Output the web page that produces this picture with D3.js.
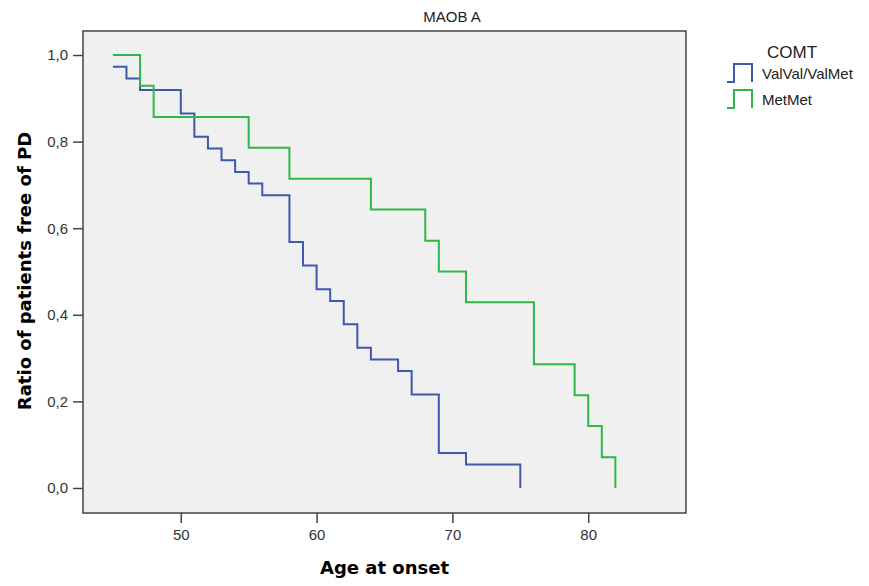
<!DOCTYPE html>
<html>
<head>
<meta charset="utf-8">
<script src="https://cdn.jsdelivr.net/npm/d3@7"></script>
<style>
  body { margin: 0; background: #fff; }
  svg { display: block; }
</style>
</head>
<body>
<svg></svg>
<script>
var width  = 869;
var height = 586;

// plot frame
var plotLeft = 83, plotRight = 686, plotTop = 31, plotBottom = 513;

// Kaplan-Meier steps
var blueAges = [45, 46, 47, 50, 51, 52, 53, 54, 55, 56, 58, 59, 60, 61, 62, 63, 64, 66, 67, 69, 71, 75];
var blueSurv = [0.973, 0.946, 0.919, 0.865, 0.811, 0.784, 0.757, 0.730, 0.703, 0.676, 0.568,
                0.514, 0.459, 0.432, 0.378, 0.324, 0.297, 0.270, 0.216, 0.081, 0.054, 0.000];

var greenAges = [45, 47, 48, 55, 58, 64, 68, 69, 71, 76, 79, 80, 81, 82];
var greenSurv = [1.000, 0.929, 0.857, 0.786, 0.714, 0.643, 0.571, 0.500, 0.429, 0.286, 0.214, 0.143, 0.071, 0.000];

var seriesNames = ['ValVal/ValMet', 'MetMet'];
var xTicks = [50, 60, 70, 80];
var yTicks = [0, 0.2, 0.4, 0.6, 0.8, 1.0];

var colors = ['#3e58ac', '#2eb848'];

var xScale = d3.scaleLinear()
                    .domain([42.8, 87.2])
                    .range([plotLeft, plotRight]);

var yScale = d3.scaleLinear()
                    .domain([0, 1])
                    .range([488, 55]);

var svg = d3.select('svg')
        .attr('width', width)
        .attr('height', height);

svg.append('rect')
        .attr('x', plotLeft)
        .attr('y', plotTop)
        .attr('width', plotRight - plotLeft)
        .attr('height', plotBottom - plotTop)
        .attr('fill', '#f0f0f0')
        .attr('stroke', '#444')
        .attr('stroke-width', 1.5);

var commaFmt = d => d3.format('.1f')(d).replace('.', ',');

var xAxis = d3.axisBottom(xScale)
                    .tickValues(xTicks)
                    .tickSize(10)
                    .tickSizeOuter(0)
                    .tickPadding(6);

var yAxis = d3.axisLeft(yScale)
                    .tickValues(yTicks)
                    .tickFormat(commaFmt)
                    .tickSize(10)
                    .tickSizeOuter(0)
                    .tickPadding(5);

var gx = svg.append('g')
        .attr('transform', 'translate(0, ' + plotBottom + ')')
        .call(xAxis);

var gy = svg.append('g')
        .attr('transform', 'translate(' + plotLeft + ', 0)')
        .call(yAxis);

[gx, gy].forEach(function(g) {
    g.select('.domain').remove();
    g.selectAll('line').attr('stroke', '#444').attr('stroke-width', 1.5);
    g.selectAll('text')
        .attr('fill', '#333')
        .attr('font-family', 'Liberation Sans, Arial, sans-serif')
        .attr('font-size', '15px');
});

var line = d3.line()
        .x(d => xScale(d[0]))
        .y(d => yScale(d[1]))
        .curve(d3.curveStepAfter);

function stepPoints(ages, surv) {
    var pts = [];
    for (var i = 0; i < ages.length; i++) {
        pts.push([ages[i], surv[i]]);
    }
    return pts;
}

var bluePts = stepPoints(blueAges, blueSurv);
var greenPts = stepPoints(greenAges, greenSurv);

svg.selectAll('path.km')
    .data([bluePts, greenPts])
    .enter()
    .append('path')
        .attr('class', 'km')
        .attr('d', line)
        .attr('fill', 'none')
        .attr('stroke', (d, i) => colors[i])
        .attr('stroke-width', 2);

// title
svg.append('text')
        .attr('x', 452)
        .attr('y', 22)
        .attr('text-anchor', 'middle')
        .attr('font-family', 'Liberation Sans, Arial, sans-serif')
        .attr('font-size', '15px')
        .attr('fill', '#222')
        .text('MAOB A');

svg.append('text')
        .attr('x', (plotLeft + plotRight) / 2)
        .attr('y', 574)
        .attr('text-anchor', 'middle')
        .attr('font-family', 'DejaVu Sans, sans-serif')
        .attr('font-weight', 'bold')
        .attr('font-size', '18px')
        .attr('fill', '#000')
        .text('Age at onset');

svg.append('text')
        .attr('transform', 'rotate(-90)')
        .attr('x', -271)
        .attr('y', 31)
        .attr('text-anchor', 'middle')
        .attr('font-family', 'DejaVu Sans, sans-serif')
        .attr('font-weight', 'bold')
        .attr('font-size', '18px')
        .attr('fill', '#000')
        .text('Ratio of patients free of PD');

// legend
svg.append('text')
        .attr('x', 767)
        .attr('y', 58)
        .attr('font-family', 'Liberation Sans, Arial, sans-serif')
        .attr('font-size', '17px')
        .attr('fill', '#222')
        .text('COMT');

var legend = svg.selectAll('g.legend')
    .data(seriesNames)
    .enter()
    .append('g')
        .attr('class', 'legend')
        .attr('transform', (d, i) => 'translate(727, ' + (64 + i * 26) + ')');

legend.append('path')
        .attr('d', 'M0,18H7V0H25V18')
        .attr('fill', 'none')
        .attr('stroke', (d, i) => colors[i])
        .attr('stroke-width', 2);

legend.append('text')
        .attr('x', 35)
        .attr('y', 15)
        .attr('font-family', 'Liberation Sans, Arial, sans-serif')
        .attr('font-size', '15px')
        .attr('fill', '#222')
        .text(d => d);
</script>
</body>
</html>
